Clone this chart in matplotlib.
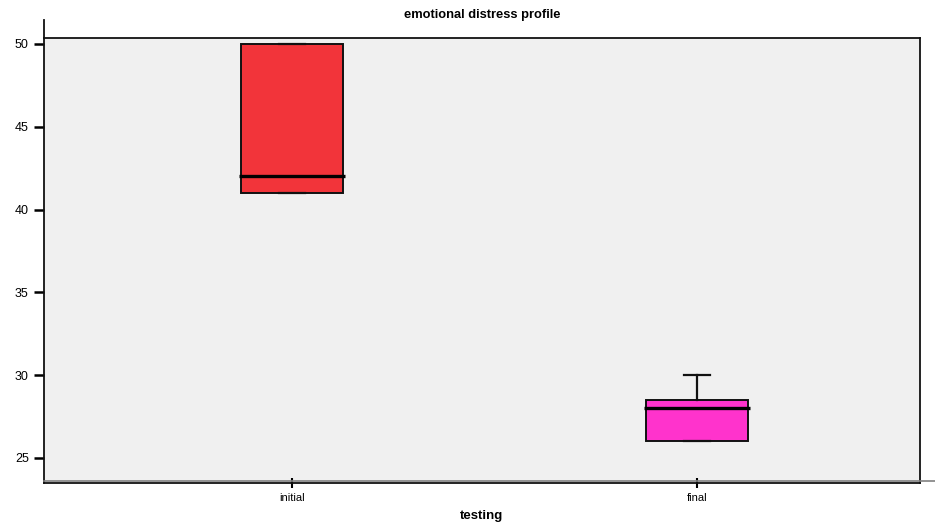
import matplotlib
matplotlib.use("Agg")
import matplotlib.pyplot as plt
from matplotlib.lines import Line2D

# box statistics
groups = ["initial", "final"]
q1 = [41, 26]
medians = [42, 28]
q3 = [50, 28.5]
whislo = [41, 26]
whishi = [50, 30]
box_colors = ["#F2343A", "#FF33CC"]
yticks = [25, 30, 35, 40, 45, 50]

plt.rcParams['font.family'] = ['Liberation Sans', 'DejaVu Sans']

fig = plt.figure(figsize=(9.35, 5.25), dpi=100)
ax = fig.add_axes([44/935, 1 - 483/525, 876/935, (483 - 38)/525])
ax.set_facecolor("#F0F0F0")

stats = []
for i in range(len(groups)):
    stats.append({"label": groups[i], "q1": q1[i], "med": medians[i], "q3": q3[i],
                  "whislo": whislo[i], "whishi": whishi[i], "fliers": []})

bp = ax.bxp(stats, positions=[1, 2], widths=0.252, patch_artist=True,
            showfliers=False, capwidths=0.065,
            boxprops=dict(edgecolor="#111111", linewidth=1.4),
            medianprops=dict(color="black", linewidth=2.4),
            whiskerprops=dict(color="#111111", linewidth=1.6),
            capprops=dict(color="#111111", linewidth=1.6))
for patch, c in zip(bp["boxes"], box_colors):
    patch.set_facecolor(c)
for med in bp["medians"]:
    x0, x1 = med.get_xdata()[0], med.get_xdata()[1]
    med.set_xdata([x0 - 0.004, x1 + 0.004])

ax.set_xlim(0.388, 2.55)
ax.set_ylim(23.49, 50.36)
ax.set_yticks(yticks)
ax.set_xticks([1, 2])
ax.set_xticklabels(groups)

for s in ax.spines.values():
    s.set_linewidth(1.3)
    s.set_color("#111111")

ax.tick_params(axis="y", direction="out", length=7, width=1.8, labelsize=9, pad=4)
ax.tick_params(axis="x", direction="inout", length=7, width=1.5, labelsize=8, pad=4)

ax.set_title("emotional distress profile", fontsize=9.3, fontweight="bold", pad=0,
             y=1 + (38 - 12) / 445 - 0.014)
ax.set_xlabel("testing", fontsize=9.5, fontweight="bold", labelpad=5)

# left axis line goes above the frame, grey rule under the plot goes to the edge
fig.add_artist(Line2D([44/935, 44/935], [1 - 20/525, 1 - 38/525], color="#111111", linewidth=1.3))
fig.add_artist(Line2D([44/935, 1.0], [1 - 480.5/525, 1 - 480.5/525], color="#808080", linewidth=1.2))

plt.savefig("out.png", dpi=100)
